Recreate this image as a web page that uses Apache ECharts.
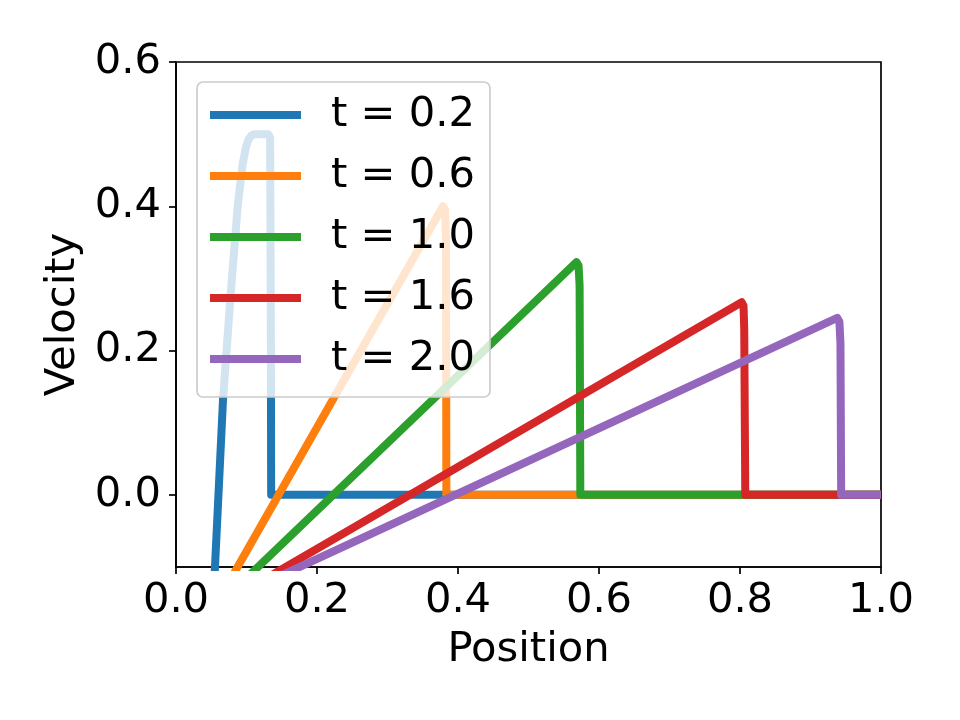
<!DOCTYPE html>
<html>
<head>
<meta charset="utf-8">
<script src="https://cdn.jsdelivr.net/npm/echarts@6/dist/echarts.min.js"></script>
<style>
html,body{margin:0;padding:0;background:#fff;}
#chart{width:960px;height:720px;}
</style>
</head>
<body>
<div id="chart"></div>
<script>
// ---- data ----
const seriesNames = ['t = 0.2', 't = 0.6', 't = 1.0', 't = 1.6', 't = 2.0'];
const colors = ['#1f77b4', '#ff7f0e', '#2ca02c', '#d62728', '#9467bd'];

const blueX = [0.0533, 0.0553, 0.0667, 0.077, 0.0875, 0.094, 0.099, 0.103, 0.107, 0.111, 0.131, 0.1335, 0.1345, 0.135, 1.0];
const blueY = [-0.14, -0.1, 0.132, 0.271, 0.40, 0.455, 0.481, 0.493, 0.498, 0.5, 0.5, 0.495, 0.25, 0.0, 0.0];

const orangeX = [0.064, 0.3787, 0.3815, 0.383, 0.3835, 1.0];
const orangeY = [-0.14, 0.400, 0.396, 0.36, 0.0, 0.0];

const greenX = [0.0735, 0.568, 0.571, 0.5725, 0.5735, 1.0];
const greenY = [-0.14, 0.3226, 0.318, 0.29, 0.0, 0.0];

const redX = [0.085, 0.8024, 0.805, 0.806, 0.8075, 1.0];
const redY = [-0.14, 0.267, 0.262, 0.23, 0.0, 0.0];

const purpleX = [0.087, 0.938, 0.941, 0.9425, 0.9435, 1.0];
const purpleY = [-0.14, 0.2454, 0.24, 0.21, 0.0, 0.0];

const xTicks = [0, 0.2, 0.4, 0.6, 0.8, 1.0];
const yTicks = [0, 0.2, 0.4, 0.6];

// ---- build ----
const allX = [blueX, orangeX, greenX, redX, purpleX];
const allY = [blueY, orangeY, greenY, redY, purpleY];
const FONT = 'DejaVu Sans';
const FS = 41.67;

const series = seriesNames.map((name, i) => ({
  name: name,
  type: 'line',
  data: allX[i].map((x, j) => [x, allY[i][j]]),
  showSymbol: false,
  symbol: 'none',
  clip: true,
  color: colors[i],
  lineStyle: { width: 8, color: colors[i], join: 'round', cap: 'butt' },
  emphasis: { disabled: true },
  animation: false
}));

const chart = echarts.init(document.getElementById('chart'), null, { renderer: 'canvas' });
chart.setOption({
  animation: false,
  backgroundColor: '#ffffff',
  textStyle: { fontFamily: FONT },
  grid: {
    left: 176, top: 62, right: 79, bottom: 153,
    show: true, borderColor: '#000', borderWidth: 1.7, backgroundColor: 'transparent'
  },
  legend: {
    data: seriesNames,
    orient: 'vertical',
    left: 197, top: 82,
    icon: 'rect',
    itemWidth: 91, itemHeight: 8,
    itemGap: 19,
    padding: [12, 15, 17, 13],
    backgroundColor: 'rgba(255,255,255,0.8)',
    borderColor: '#cccccc', borderWidth: 1.7, borderRadius: 6,
    textStyle: { fontFamily: FONT, fontSize: FS, lineHeight: 42, color: '#000', padding: [0, 0, 0, 25] },
    selectedMode: false
  },
  xAxis: {
    type: 'value', min: 0, max: 1, interval: 0.2,
    name: 'Position', nameLocation: 'middle', nameGap: 62,
    nameTextStyle: { fontFamily: FONT, fontSize: FS, color: '#000' },
    axisLine: { show: true, onZero: false, lineStyle: { color: '#000', width: 1.7 } },
    axisTick: { show: true, length: 7, lineStyle: { color: '#000', width: 1.7 } },
    axisLabel: { fontFamily: FONT, fontSize: FS, color: '#000', margin: 13,
      formatter: v => v.toFixed(1) },
    splitLine: { show: false }
  },
  yAxis: {
    type: 'value', min: -0.1, max: 0.6,
    name: 'Velocity', nameLocation: 'middle', nameRotate: 90, nameGap: 86,
    nameTextStyle: { fontFamily: FONT, fontSize: FS, color: '#000' },
    axisLine: { show: true, onZero: false, lineStyle: { color: '#000', width: 1.7 } },
    axisTick: { show: true, length: 7, customValues: yTicks, lineStyle: { color: '#000', width: 1.7 } },
    axisLabel: { fontFamily: FONT, fontSize: FS, color: '#000', margin: 15,
      customValues: yTicks, formatter: v => v.toFixed(1) },
    splitLine: { show: false }
  },
  series: series
});
</script>
</body>
</html>
